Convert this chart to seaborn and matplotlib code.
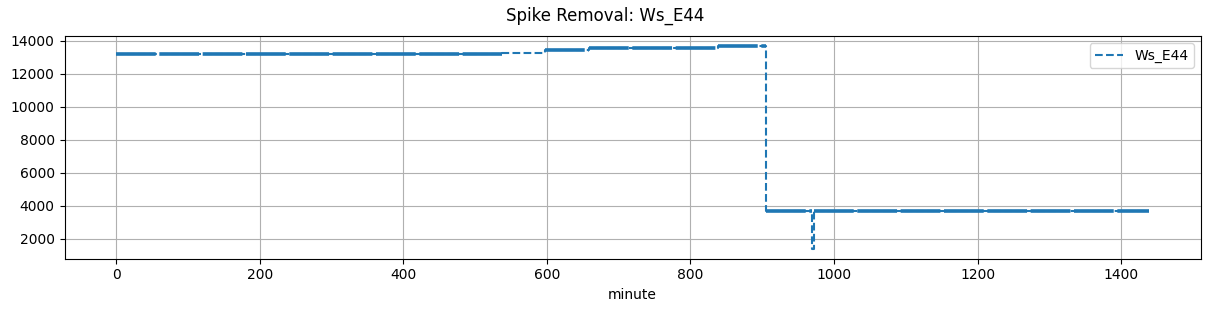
import matplotlib
matplotlib.use("Agg")
import matplotlib.pyplot as plt
from matplotlib.lines import Line2D
import seaborn as sns
import pandas as pd

# level change points (minute, value) of Ws_E44 after spike removal
minutes = [0, 538, 560, 598, 659, 839, 905, 970, 972, 1439]
values = [13200, 13260, 13290, 13420, 13540, 13680, 3680, 1420, 3680, 3680]
# whether the level segment starting at that point is noisy (drawn heavier)
noisy = [True, False, False, True, True, True, True, False, True, False]
series_name = "Ws_E44"

df = pd.DataFrame({"minute": minutes, series_name: values})

fig = plt.figure(figsize=(12.11, 3.11), dpi=100)
ax = fig.add_axes([64.5 / 1211, 1 - 258.7 / 311, (1200.7 - 64.5) / 1211, (258.7 - 36) / 311])

color = "#1f77b4"
sns.lineplot(data=df, x="minute", y=series_name, ax=ax, color=color,
             linewidth=1.5, linestyle="--", drawstyle="steps-post")

starts = [m for m, n in zip(minutes[:-1], noisy[:-1]) if n]
ends = [m2 for m2, n in zip(minutes[1:], noisy[:-1]) if n]
levels = [v for v, n in zip(values[:-1], noisy[:-1]) if n]
ax.hlines(levels, starts, ends, colors=color, linewidth=2.6,
          linestyles=[(0, (11, 1.0))])

ax.grid(True, color="#b0b0b0", linewidth=0.8)
ax.set_axisbelow(True)
ax.set_ylabel("")
ax.set_xlabel("minute", fontsize=10)
ax.set_xticks([0, 200, 400, 600, 800, 1000, 1200, 1400])
ax.set_yticks([2000, 4000, 6000, 8000, 10000, 12000, 14000])
ax.tick_params(labelsize=10)

handle = Line2D([], [], color=color, linestyle="--", linewidth=1.5)
ax.legend([handle], [series_name], loc="upper right", fontsize=10)

fig.suptitle("Spike Removal: Ws_E44", fontsize=12, y=1 - 16 / 311, va="center")

fig.savefig("out.png", dpi=100)
